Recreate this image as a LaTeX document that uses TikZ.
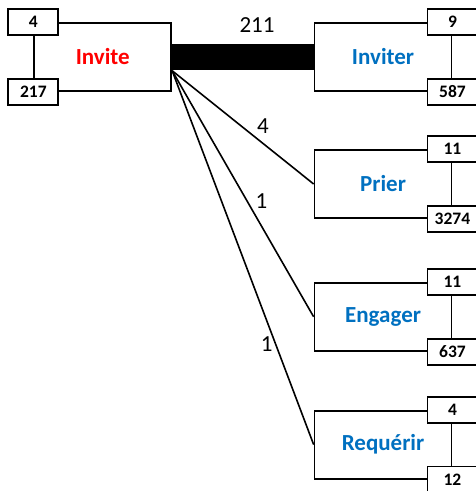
\documentclass[tikz,border=0pt]{standalone}
\usepackage{fontspec}
\setmainfont{Carlito}
\usepackage{tikz}
\usetikzlibrary{positioning}
\definecolor{VerbRed}{HTML}{FF0000}
\definecolor{VerbBlue}{HTML}{0070C0}
\begin{document}
\begin{tikzpicture}[
    x=1pt, y=-1pt,
    verb/.style={
      rectangle, draw, line width=1.8pt, minimum width=137pt, minimum height=68pt,
      inner sep=0pt, text=VerbBlue, font=\fontsize{23}{27}\selectfont\bfseries
    },
    numbox/.style={
      rectangle, draw, fill=white, line width=1.8pt, minimum width=50pt,
      minimum height=26pt, inner sep=0pt, font=\fontsize{17.5}{20}\selectfont\bfseries
    },
    link/.style={line width=1.6pt},
    lbl/.style={font=\fontsize{23}{27}\selectfont, inner sep=2pt}
  ]
    \useasboundingbox (0,0) rectangle (476,491);

    \node[verb, text=VerbRed] (invite) at (102.75,56.7) {Invite};
    \node[verb, right=141.5pt of invite] (inviter) {Inviter};
    \node[verb, below=57.5pt of inviter] (prier) {Prier};
    \node[verb, below=63pt of prier] (engager) {Engager};
    \node[verb, below=58pt of engager] (requerir) {Requérir};

    \coordinate[below=14pt of invite.east] (fan);

    \draw[line width=26pt] (invite.east) -- node[lbl, pos=0.6, above=9pt] {211} (inviter.west);
    \draw[link] (fan) -- node[lbl, pos=0.58, above right] {4} (prier.west);
    \draw[link] (fan) -- node[lbl, pos=0.57, above right] {1} (engager.west);
    \draw[link] (fan) -- node[lbl, pos=0.73, left] {1} (requerir.west);

    \node[numbox] (invite-in) at (invite.north west) {4};
    \node[numbox] (invite-out) at (invite.south west) {217};
    \node[numbox] (inviter-in) at (inviter.north east) {9};
    \node[numbox] (inviter-out) at (inviter.south east) {587};
    \node[numbox] (prier-in) at (prier.north east) {11};
    \node[numbox] (prier-out) at (prier.south east) {3274};
    \node[numbox] (engager-in) at (engager.north east) {11};
    \node[numbox] (engager-out) at (engager.south east) {637};
    \node[numbox] (requerir-in) at (requerir.north east) {4};
    \node[numbox] (requerir-out) at (requerir.south east) {12};
  \end{tikzpicture}
\end{document}
